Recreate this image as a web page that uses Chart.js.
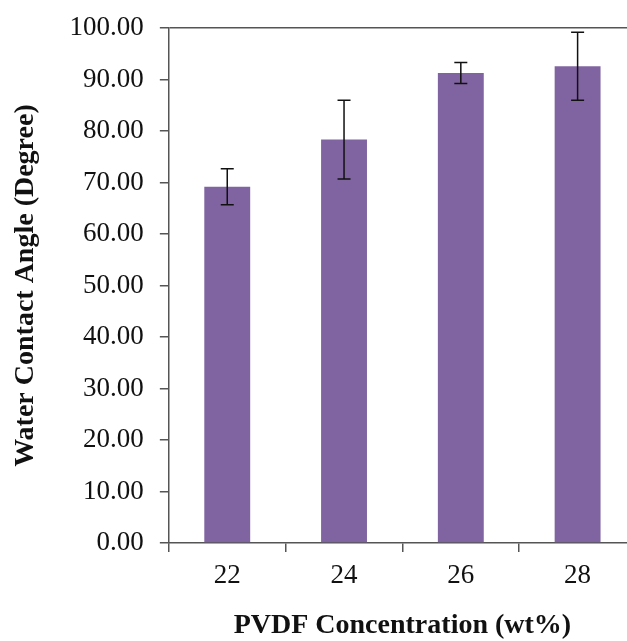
<!DOCTYPE html>
<html>
<head>
<meta charset="utf-8">
<script src="https://cdn.jsdelivr.net/npm/chart.js@4.4.1/dist/chart.umd.min.js"></script>
<style>
    html, body { margin: 0; padding: 0; background: #fff; overflow: hidden; }
    #wrap { position: absolute; left: 0; top: 0; width: 640px; height: 641px; }
</style>
</head>
<body>
<div id="wrap"><canvas id="myChart"></canvas></div>
<script>
const concentrations = ['22', '24', '26', '28'];
const contactAngle = [69.2, 78.35, 91.3, 92.6];
const angleError = [3.5, 7.65, 2.05, 6.6];

const serif = '"Liberation Serif", "Times New Roman", serif';

// vertical error bars with caps, drawn on top of the bars
const errorBars = {
    id: 'errorBars',
    afterDatasetsDraw(chart) {
        const {ctx, scales: {y}} = chart;
        const meta = chart.getDatasetMeta(0);
        ctx.save();
        ctx.strokeStyle = '#111';
        ctx.lineWidth = 1.5;
        meta.data.forEach((bar, i) => {
            const x = bar.x;
            const top = y.getPixelForValue(contactAngle[i] + angleError[i]);
            const bottom = y.getPixelForValue(contactAngle[i] - angleError[i]);
            const cap = 6.5;
            ctx.beginPath();
            ctx.moveTo(x, top);
            ctx.lineTo(x, bottom);
            ctx.moveTo(x - cap, top);
            ctx.lineTo(x + cap, top);
            ctx.moveTo(x - cap, bottom);
            ctx.lineTo(x + cap, bottom);
            ctx.stroke();
        });
        ctx.restore();
    }
};

const ctx = document.getElementById('myChart').getContext('2d');

const myChart = new Chart(ctx, {
    type: 'bar',
    data: {
        labels: concentrations,
        datasets: [{
            label: 'Water Contact Angle',
            data: contactAngle,
            backgroundColor: '#8064A2',
            borderWidth: 0,
            barPercentage: 0.393,
            categoryPercentage: 1
        }]
    },
    options: {
        responsive: true,
        maintainAspectRatio: false,
        animation: false,
        layout: {
            padding: { left: 0, right: 4, top: 0, bottom: 0 }
        },
        plugins: {
            legend: { display: false },
            tooltip: { enabled: false }
        },
        scales: {
            y: {
                min: 0,
                max: 100,
                ticks: {
                    stepSize: 10,
                    color: '#111',
                    padding: 16,
                    // tight line height keeps the top of the plot at the 100 label
                    font: { family: serif, size: 27, lineHeight: 0.9 },
                    callback: (v) => v.toFixed(2)
                },
                grid: {
                    // only the top line is drawn across the plot
                    color: (c) => (c.tick && c.tick.value === 100 ? '#555' : 'rgba(0,0,0,0)'),
                    tickColor: '#555',
                    tickLength: 9,
                    lineWidth: 1.5
                },
                border: { color: '#555', width: 1.5 },
                title: {
                    display: true,
                    text: 'Water Contact Angle (Degree)',
                    color: '#111',
                    font: { family: serif, size: 28, weight: 'bold' },
                    padding: { top: 9, bottom: 11 }
                }
            },
            x: {
                ticks: {
                    color: '#111',
                    padding: 8,
                    font: { family: serif, size: 27 }
                },
                grid: {
                    offset: true,
                    color: 'rgba(0,0,0,0)',
                    tickColor: '#555',
                    tickLength: 9,
                    lineWidth: 1.5
                },
                border: { color: '#555', width: 1.5 },
                title: {
                    display: true,
                    text: 'PVDF Concentration (wt%)',
                    color: '#111',
                    font: { family: serif, size: 28, weight: 'bold' },
                    padding: { top: 9, bottom: -2 }
                }
            }
        }
    },
    plugins: [errorBars]
});
</script>
</body>
</html>
